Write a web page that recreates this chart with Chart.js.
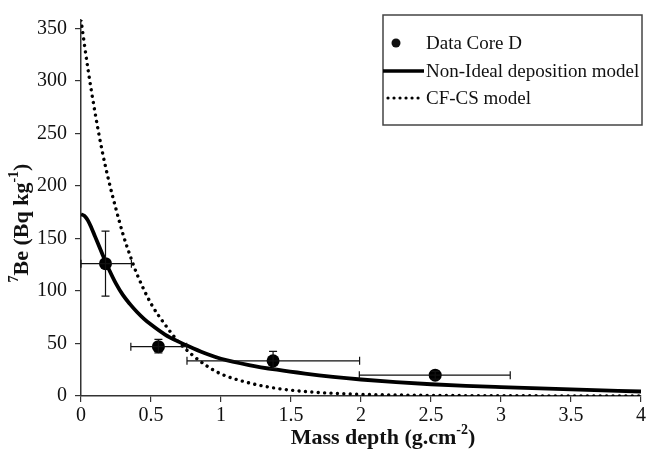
<!DOCTYPE html>
<html>
<head>
<meta charset="utf-8">
<script src="https://cdn.jsdelivr.net/npm/chart.js@4/dist/chart.umd.min.js"></script>
<style>
html,body{margin:0;padding:0;background:#fff;}
#wrap{position:relative;width:651px;height:457px;}
</style>
</head>
<body>
<div id="wrap"><canvas id="c" width="651" height="457"></canvas></div>
<script>
// ---- Data ----
const coreDepth   = [0.175, 0.553, 1.372, 2.530];
const coreBe7     = [126, 47, 33.5, 19.8];
const coreDepthLo = [0.0, 0.356, 0.757, 1.988];
const coreDepthHi = [0.360, 0.755, 1.990, 3.066];
const coreBe7Lo   = [95, 41, 26, 16];
const coreBe7Hi   = [157, 54, 42.5, 23.5];

const nonIdealDepth = [0, 0.025, 0.05, 0.075, 0.1, 0.125, 0.15, 0.175, 0.2, 0.25, 0.3, 0.35, 0.4, 0.45, 0.5, 0.6, 0.7, 0.8, 0.9, 1.0, 1.2, 1.4, 1.6, 1.8, 2.0, 2.25, 2.5, 2.75, 3.0, 3.5, 4.0];
const nonIdealBe7   = [173, 171.5, 167, 160, 152, 144, 136, 128, 120.5, 107, 96, 87.5, 80, 73.5, 68, 58.5, 51.5, 45.5, 40, 35.5, 29.5, 25, 21.3, 18.2, 15.7, 13.2, 11.2, 9.7, 8.5, 6.3, 4.3];

const cfcsDepth = [0, 0.05, 0.1, 0.15, 0.2, 0.25, 0.3, 0.35, 0.4, 0.5, 0.6, 0.7, 0.8, 0.9, 1.0, 1.2, 1.4, 1.6, 1.8, 2.0, 2.5, 3.0, 3.5, 4.0];
const cfcsBe7   = [358, 311, 270, 234, 204, 178, 154, 134, 116, 88, 68, 51, 38.5, 28.5, 21, 12.5, 7.2, 4.3, 2.6, 1.6, 0.6, 0.3, 0.1, 0.05];

const xTickValues = [0, 0.5, 1, 1.5, 2, 2.5, 3, 3.5, 4];
const yTickValues = [0, 50, 100, 150, 200, 250, 300, 350];

const legendLabels = ['Data Core D', 'Non-Ideal deposition model', 'CF-CS model'];
const xTitle = ['Mass depth (g.cm', '-2', ')'];
const yTitle = ['', '7', 'Be (Bq kg', '-1', ')'];

const FONT = '"Liberation Serif", "Times New Roman", serif';
const toXY = (xs, ys) => xs.map((x, i) => ({x: x, y: ys[i]}));

const errorBars = {
  id: 'errorBars',
  afterDatasetsDraw(chart) {
    const ctx = chart.ctx, sx = chart.scales.x, sy = chart.scales.y;
    ctx.save();
    ctx.strokeStyle = '#111';
    ctx.lineWidth = 1.2;
    const cap = 4;
    coreDepth.forEach((d, i) => {
      const px = sx.getPixelForValue(d), py = sy.getPixelForValue(coreBe7[i]);
      const x0 = sx.getPixelForValue(coreDepthLo[i]), x1 = sx.getPixelForValue(coreDepthHi[i]);
      const y0 = sy.getPixelForValue(coreBe7Lo[i]), y1 = sy.getPixelForValue(coreBe7Hi[i]);
      ctx.beginPath();
      ctx.moveTo(x0, py); ctx.lineTo(x1, py);
      ctx.moveTo(x0, py - cap); ctx.lineTo(x0, py + cap);
      ctx.moveTo(x1, py - cap); ctx.lineTo(x1, py + cap);
      ctx.moveTo(px, y0); ctx.lineTo(px, y1);
      ctx.moveTo(px - cap, y0); ctx.lineTo(px + cap, y0);
      ctx.moveTo(px - cap, y1); ctx.lineTo(px + cap, y1);
      ctx.stroke();
    });
    ctx.restore();
  }
};

function drawParts(ctx, parts, x, y, size, align) {
  const supSize = Math.round(size * 0.62);
  const widths = parts.map((p, i) => {
    ctx.font = 'bold ' + (i % 2 ? supSize : size) + 'px ' + FONT;
    return ctx.measureText(p).width;
  });
  const total = widths.reduce((a, b) => a + b, 0);
  let cx = align === 'center' ? x - total / 2 : x;
  parts.forEach((p, i) => {
    ctx.font = 'bold ' + (i % 2 ? supSize : size) + 'px ' + FONT;
    ctx.fillText(p, cx, i % 2 ? y - size * 0.36 : y);
    cx += widths[i];
  });
}

const decor = {
  id: 'decor',
  afterDraw(chart) {
    const ctx = chart.ctx, a = chart.chartArea;
    ctx.save();
    ctx.fillStyle = '#111';
    ctx.textBaseline = 'middle';
    ctx.textAlign = 'left';
    // axis titles
    drawParts(ctx, xTitle, 383, 438, 22, 'center');
    ctx.save();
    ctx.translate(22, 223);
    ctx.rotate(-Math.PI / 2);
    drawParts(ctx, yTitle, 0, 0, 22, 'center');
    ctx.restore();
    // legend
    const bx = 383, by = 15, bw = 259, bh = 110;
    ctx.fillStyle = '#fff';
    ctx.fillRect(bx, by, bw, bh);
    ctx.strokeStyle = '#444';
    ctx.lineWidth = 1.5;
    ctx.strokeRect(bx, by, bw, bh);
    const rows = [43, 71, 98];
    ctx.fillStyle = '#111';
    ctx.beginPath(); ctx.arc(396, rows[0], 4.5, 0, Math.PI * 2); ctx.fill();
    ctx.strokeStyle = '#000';
    ctx.lineWidth = 3.5;
    ctx.beginPath(); ctx.moveTo(383, rows[1]); ctx.lineTo(424, rows[1]); ctx.stroke();
    ctx.lineWidth = 3.2; ctx.lineCap = 'round'; ctx.setLineDash([0.01, 6]);
    ctx.beginPath(); ctx.moveTo(388, rows[2]); ctx.lineTo(422, rows[2]); ctx.stroke();
    ctx.setLineDash([]);
    ctx.font = '19px ' + FONT;
    legendLabels.forEach((t, i) => ctx.fillText(t, 426, rows[i] + 1));
    ctx.restore();
  }
};

new Chart(document.getElementById('c'), {
  type: 'scatter',
  data: {
    datasets: [
      {
        label: legendLabels[0],
        data: toXY(coreDepth, coreBe7),
        pointRadius: 6.5, pointHoverRadius: 6.5,
        backgroundColor: '#000', borderColor: '#000', borderWidth: 0,
        showLine: false, order: 0
      },
      {
        label: legendLabels[1],
        data: toXY(nonIdealDepth, nonIdealBe7),
        showLine: true, pointRadius: 0, borderColor: '#000', borderWidth: 3.8,
        cubicInterpolationMode: 'monotone', fill: false, order: 1
      },
      {
        label: legendLabels[2],
        data: toXY(cfcsDepth, cfcsBe7),
        showLine: true, pointRadius: 0, borderColor: '#000', borderWidth: 3.4,
        borderCapStyle: 'round', borderDash: [0.01, 6.4],
        cubicInterpolationMode: 'monotone', fill: false, order: 2
      }
    ]
  },
  options: {
    responsive: false,
    animation: false,
    events: [],
    layout: { padding: { top: 0, right: 10, bottom: 0, left: 0 } },
    plugins: { legend: { display: false }, tooltip: { enabled: false } },
    scales: {
      x: {
        type: 'linear', min: 0, max: 4,
        afterBuildTicks: s => { s.ticks = xTickValues.map(v => ({value: v})); },
        afterFit: s => { s.height = 61; },
        grid: { drawOnChartArea: false, drawTicks: true, tickLength: 6, color: '#333', lineWidth: 1.2 },
        border: { display: true, color: '#333', width: 1.5 },
        ticks: { color: '#111', font: { family: FONT, size: 20 }, padding: 2, maxRotation: 0,
                 callback: v => String(v) }
      },
      y: {
        type: 'linear', min: 0, max: 358,
        afterBuildTicks: s => { s.ticks = yTickValues.map(v => ({value: v})); },
        afterFit: s => { s.width = 81; },
        grid: { drawOnChartArea: false, drawTicks: true, tickLength: 6, color: '#333', lineWidth: 1.2 },
        border: { display: true, color: '#333', width: 1.5 },
        ticks: { color: '#111', font: { family: FONT, size: 20 }, padding: 8,
                 callback: v => String(v) }
      }
    }
  },
  plugins: [errorBars, decor]
});
</script>
</body>
</html>
